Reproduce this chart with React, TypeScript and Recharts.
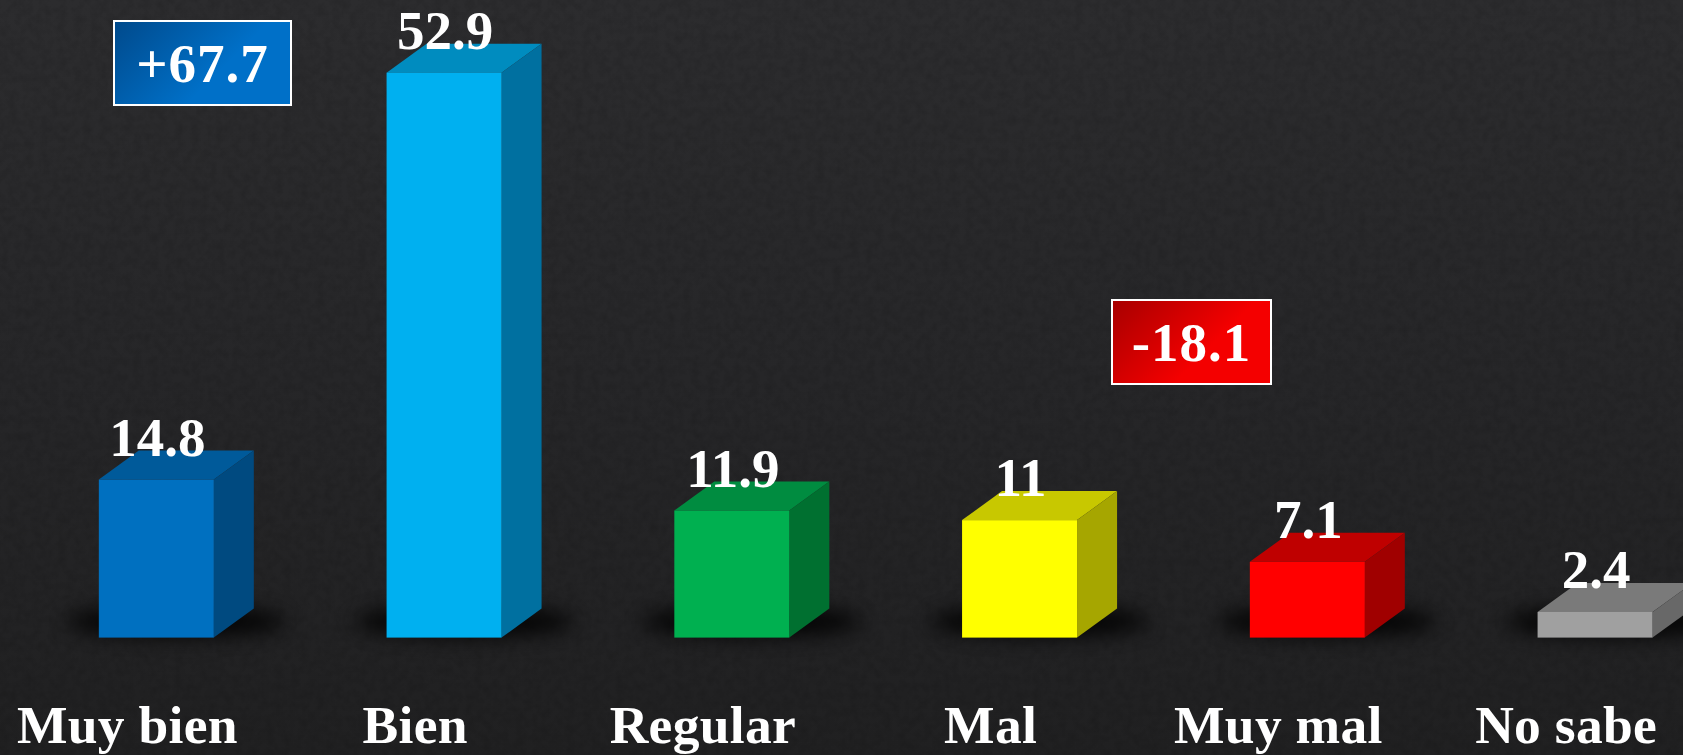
import { Bar, BarChart, LabelList, XAxis, YAxis } from "recharts";

const CATEGORIES = ["Muy bien", "Bien", "Regular", "Mal", "Muy mal", "No sabe"];
const VALUES = [14.8, 52.9, 11.9, 11, 7.1, 2.4];
const FRONT = ["#0070C0", "#00B0F0", "#00B050", "#FFFF00", "#FF0000", "#A0A0A0"];
const TOP = ["#005A9A", "#008CBF", "#008C40", "#C8C800", "#BF0000", "#7A7A7A"];
const SIDE = ["#004A80", "#0070A0", "#007030", "#A6A600", "#A00000", "#686868"];

const data = CATEGORIES.map((name, i) => ({ name, value: VALUES[i], front: FRONT[i], top: TOP[i], side: SIDE[i] }));

const FONT = "'Liberation Serif', serif";
const DEPTH_X = 40;
const DEPTH_Y = 29;

function Box3D({ x, y, width, height, payload }: any) {
  const r = x + width;
  const b = y + height;
  return (
    <g>
      <ellipse cx={x + (width + DEPTH_X) / 2} cy={b - 16} rx={(width + DEPTH_X) / 2 + 32} ry={15} fill="#000" opacity={0.9} filter="url(#soft)" />
      <polygon points={`${x},${y} ${x + DEPTH_X},${y - DEPTH_Y} ${r + DEPTH_X},${y - DEPTH_Y} ${r},${y}`} fill={payload.top} />
      <polygon points={`${r},${y} ${r + DEPTH_X},${y - DEPTH_Y} ${r + DEPTH_X},${b - DEPTH_Y} ${r},${b}`} fill={payload.side} />
      <rect x={x} y={y} width={width} height={height} fill={payload.front} />
    </g>
  );
}

function ValueLabel({ x, y, width, value }: any) {
  return (
    <text x={x + width / 2 + 1} y={y - 24} textAnchor="middle" fill="#fff" fontFamily={FONT} fontWeight={700} fontSize={55}>
      {value}
    </text>
  );
}

function CategoryTick({ x, y, payload }: any) {
  return (
    <text x={x - 29} y={y + 97} textAnchor="middle" fill="#fff" fontFamily={FONT} fontWeight={700} fontSize={53.5} letterSpacing={0.3}>
      {payload.value}
    </text>
  );
}

function Callout({ left, top, width, height, from, to, text }: any) {
  return (
    <div
      style={{
        position: "absolute",
        left,
        top,
        width,
        height,
        boxSizing: "border-box",
        border: "2px solid #fff",
        background: `linear-gradient(135deg, ${from}, ${to} 60%)`,
        color: "#fff",
        fontFamily: FONT,
        fontWeight: 700,
        fontSize: 55,
        letterSpacing: 1,
        lineHeight: `${height - 2}px`,
        textAlign: "center",
      }}
    >
      {text}
    </div>
  );
}

export default function App() {
  return (
    <div
      style={{
        position: "fixed",
        left: 0,
        top: 0,
        width: 1683,
        height: 755,
        overflow: "hidden",
        background: "linear-gradient(180deg, #2c2c2e 0%, #262628 50%, #202021 100%)",
      }}
    >
      {/* faint grain over the backdrop */}
      <svg width={1683} height={755} style={{ position: "absolute", left: 0, top: 0 }}>
        <filter id="grain">
          <feTurbulence type="fractalNoise" baseFrequency="0.12" numOctaves={3} seed={4} />
          <feColorMatrix values="0 0 0 0 0  0 0 0 0 0  0 0 0 0 0  0 0 0 1.6 -0.6" />
        </filter>
        <rect width={1683} height={755} filter="url(#grain)" opacity={0.12} />
      </svg>
      <BarChart
        width={1739}
        height={755}
        data={data}
        barCategoryGap="30%"
        margin={{ top: 7.5, right: 0, bottom: 0, left: 12.5 }}
      >
        <defs>
          <filter id="soft" x="-20%" y="-100%" width="140%" height="300%">
            <feGaussianBlur stdDeviation="10" />
          </filter>
        </defs>
        <XAxis dataKey="name" interval={0} axisLine={false} tickLine={false} tick={<CategoryTick />} height={117.4} />
        <YAxis hide domain={[0, 59]} />
        <Bar dataKey="value" shape={<Box3D />} isAnimationActive={false}>
          <LabelList dataKey="value" content={<ValueLabel />} />
        </Bar>
      </BarChart>
      <Callout left={113} top={20} width={179} height={86} from="#004a8c" to="#0070c8" text="+67.7" />
      <Callout left={1111} top={299} width={161} height={86} from="#a80000" to="#f40000" text="-18.1" />
    </div>
  );
}
